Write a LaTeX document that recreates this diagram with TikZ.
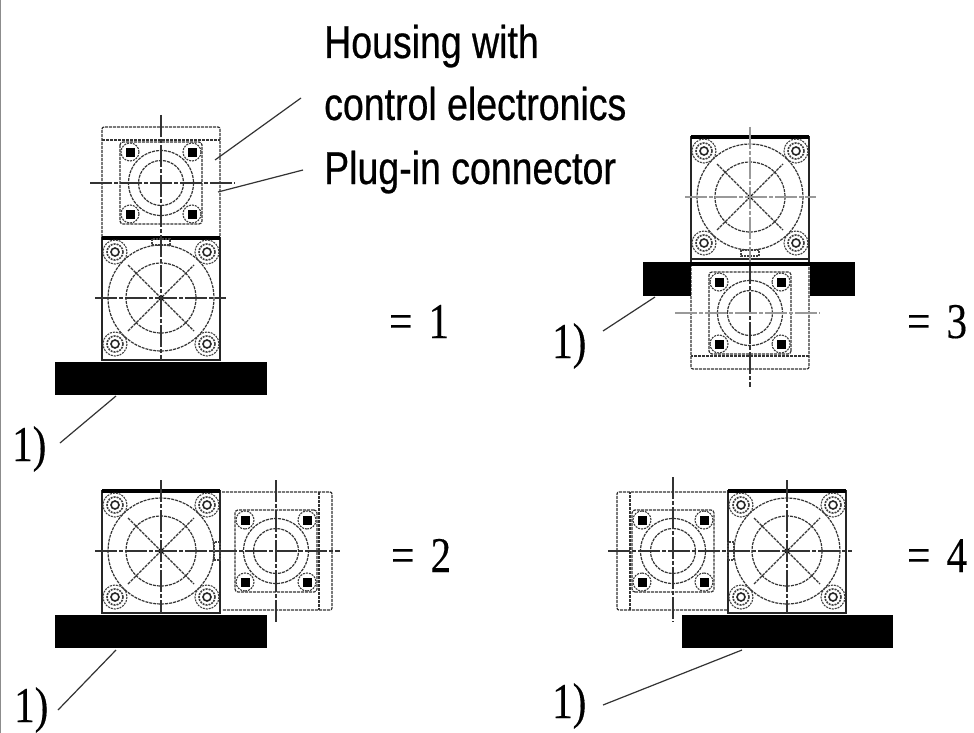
\documentclass[tikz,border=0pt]{standalone}
\usepackage{fontspec}
\setmainfont{Liberation Serif}
\newfontfamily\labfont[FakeStretch=0.815,FakeBold=0.5]{Liberation Sans}
\newfontfamily\numfont[FakeStretch=0.82,FakeBold=0.3]{Liberation Serif}
\tikzset{
  ln/.style={line width=1.2pt,draw=black!85},
  dsh/.style={line width=1.2pt,draw=black!80,dash pattern=on 3pt off 1pt},
  dot2/.style={line width=1.1pt,draw=black!75,dash pattern=on 2pt off 1pt},
  ctr/.style={line width=1.2pt,draw=black!80,dash pattern=on 22pt off 2pt on 4pt off 2pt},
  ctrg/.style={line width=1.4pt,draw=black!40,dash pattern=on 22pt off 2pt on 4pt off 2pt},
  lead/.style={line width=1.2pt,draw=black!80},
  blackbar/.style={fill=black,draw=none,inner sep=0pt,outer sep=0pt},
  lab/.style={font=\labfont\fontsize{46}{46}\selectfont,anchor=base west,inner sep=0pt},
  num/.style={font=\numfont\fontsize{50}{50}\selectfont,anchor=base west,inner sep=0pt}
}
\newcommand{\mbolt}[2]{%
  \draw[dot2] (#1,#2) circle (12);
  \draw[dot2,line width=1.6pt] (#1,#2) circle (8);
  \draw[ln,line width=1.6pt] (#1,#2) circle (4);
}
\newcommand{\sbolt}[2]{%
  \draw[dot2] (#1,#2) circle (9);
  \fill[black] (#1-4.5,#2-4.5) rectangle (#1+4.5,#2+4.5);
}
% motor: centre x, y, angle of connector tab
\newcommand{\motor}[3]{%
  \begin{scope}[shift={(#1,#2)}]
    \fill[white] (-59,-60) rectangle (59,62);
    \draw[ln] (-59,-60) rectangle (59,62);
    \draw[ln,line width=3.4pt,draw=black] (-59,-60) -- (59,-60);
    \draw[dsh] (0,0) circle (53);
    \draw[dsh] (0,0) circle (35);
    \draw[dsh] (-33,-33) -- (33,33);
    \draw[dsh] (-33,33) -- (33,-33);
    \fill[black] (0,0) circle (2.5);
    \mbolt{-46}{-46}\mbolt{46}{-46}\mbolt{-46}{46}\mbolt{46}{46}
    \begin{scope}[rotate=#3]
      \draw[dot2] (-9,-59) rectangle (9,-53);
    \end{scope}
  \end{scope}
}
% housing: centre x, y, rotation (cap direction)
\newcommand{\housing}[3]{%
  \begin{scope}[shift={(#1,#2)},rotate=#3]
    \draw[dsh,rounded corners=2pt] (-59,54) -- (-59,-56) -- (59,-56) -- (59,54);
    \draw[dsh] (-59,-43) -- (59,-43);
    \draw[dsh,rounded corners=3pt] (-41,-41) rectangle (41,41);
    \draw[dsh] (0,0) circle (32.5);
    \draw[dsh] (0,0) circle (22.5);
    \sbolt{-31}{-31}\sbolt{31}{-31}\sbolt{-31}{31}\sbolt{31}{31}
  \end{scope}
}
\begin{document}
\begin{tikzpicture}[x=1pt,y=-1pt]
\useasboundingbox (0,0) rectangle (974,733);
\fill[white] (0,0) rectangle (974,733);
\draw[line width=1.4pt,draw=black!45] (0.7,0) -- (0.7,733);

% arrangement 1
\housing{161}{183}{0}
\motor{161}{298}{0}
\draw[ctr] (161,115) -- (161,360);
\draw[ctr] (90,183) -- (235,183);
\draw[ctr] (95,298) -- (226,298);
\node[blackbar,minimum width=212pt,minimum height=33pt] (bar1) at (161,378.5) {};

% arrangement 2
\housing{276}{551}{-90}
\motor{161}{551}{-90}
\draw[ctr] (161,480) -- (161,613);
\draw[ctr] (276,480) -- (276,622);
\draw[ctr] (95,551) -- (340,551);
\node[blackbar,minimum width=212pt,minimum height=33pt] (bar2) at (161,631.5) {};

% arrangement 3
\housing{750}{313}{180}
\motor{750}{197}{180}
\draw[ln] (691,259) -- (691,264);
\draw[ln] (809,259) -- (809,264);
\draw[ctrg] (750,127) -- (750,262);
\draw[ctr] (750,262) -- (750,387);
\draw[ctrg] (685,197) -- (816,197);
\draw[ctrg] (675,313) -- (820,313);
\node[blackbar,minimum width=48pt,minimum height=34pt] (bar3a) at (667,279) {};
\node[blackbar,minimum width=45pt,minimum height=34pt] (bar3b) at (832.5,279) {};
\fill[black] (643,262) rectangle (855,266);

% arrangement 4
\housing{673}{551}{90}
\motor{787}{551}{90}
\draw[ctr] (787,480) -- (787,613);
\draw[ctr] (673,477) -- (673,622);
\draw[ctr] (608,551) -- (852,551);
\node[blackbar,minimum width=211pt,minimum height=33pt] (bar4) at (787.5,631.5) {};

% texts
\node[lab] (t1) at (324,58) {Housing with};
\node[lab] (t2) at (324,120) {control electronics};
\node[lab] (t3) at (324,184) {Plug-in connector};
\node[num] (n1) at (389,338) {=\hspace{0.12em} 1};
\node[num] (n2) at (391,572) {=\hspace{0.12em} 2};
\node[num] (n3) at (907,338) {=\hspace{0.12em} 3};
\node[num] (n4) at (907,572) {=\hspace{0.12em} 4};
\node[num] (r1) at (12,461) {1)};
\node[num] (r2) at (14,722) {1)};
\node[num] (r3) at (552,358) {1)};
\node[num] (r4) at (552,718) {1)};

% leaders
\coordinate (c1) at (301,98);
\coordinate (c1e) at (215,160);
\coordinate (c2) at (303,170);
\coordinate (c2e) at (218,192);
\coordinate (l1) at (116,396);
\coordinate (l1e) at (60,443);
\coordinate (l2) at (116,650);
\coordinate (l2e) at (58,710);
\coordinate (l3) at (655,297);
\coordinate (l3e) at (603,331);
\coordinate (l4) at (742,650);
\coordinate (l4e) at (603,705);
\draw[lead] (c1) -- (c1e);
\draw[lead] (c2) -- (c2e);
\draw[lead] (l1) -- (l1e);
\draw[lead] (l2) -- (l2e);
\draw[lead] (l3) -- (l3e);
\draw[lead] (l4) -- (l4e);
\end{tikzpicture}
\end{document}
